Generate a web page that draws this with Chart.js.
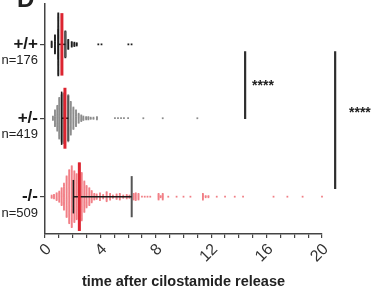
<!DOCTYPE html>
<html>
<head>
<meta charset="utf-8">
<script src="https://cdn.jsdelivr.net/npm/chart.js@4.4.0/dist/chart.umd.min.js"></script>
<style>
  html, body { margin: 0; padding: 0; background: #fff; }
</style>
</head>
<body>
<canvas id="dotplot" width="387" height="292"></canvas>
<script>
// groups, top to bottom
const groupLabels = ["+/+", "+/-", "-/-"];
const groupN = ["n=176", "n=419", "n=509"];
const groupRows = [3, 2.03, 1];

// dot columns: time value and number of cells at that value
const wtTimes = [0.48, 0.72, 0.96, 1.22, 1.47, 1.68, 1.93, 2.12, 2.29, 3.85, 4.08, 6.02, 6.25];
const wtCounts = [6, 17, 56, 45, 24, 9, 5, 4, 3, 1, 1, 1, 1];

const hetTimes = [0.57, 0.72, 0.89, 1.03, 1.2, 1.32, 1.44, 1.68, 1.86, 2.05, 2.24, 2.43, 2.62, 2.77, 2.97, 3.13, 3.3, 3.5, 3.75, 5.05, 5.27, 5.49, 5.7, 6.0, 7.1, 8.5, 11.0];
const hetCounts = [4, 15, 23, 37, 42, 45, 48, 42, 30, 20, 15, 9, 6, 4, 3, 3, 2, 2, 3, 1, 1, 1, 1, 1, 1, 1, 1];

const mutTimes = [0.48, 0.65, 0.84, 1.03, 1.2, 1.37, 1.56, 1.75, 1.93, 2.12, 2.28, 2.48, 2.65, 2.84, 3.0, 3.2, 3.37, 3.56, 3.73, 3.97, 4.2, 4.45, 4.7, 4.9, 5.17, 5.4, 5.65, 5.9, 6.1, 6.4, 6.55, 6.75, 7.0, 7.2, 7.4, 7.6, 8.2, 8.35, 8.5, 8.9, 9.5, 10.0, 10.5, 11.4, 11.6, 11.8, 12.4, 13.0, 13.7, 14.3, 16.5, 17.5, 18.6, 20.0];
const mutCounts = [3, 4, 7, 10, 16, 24, 37, 48, 55, 46, 41, 60, 43, 28, 20, 16, 11, 6, 5, 7, 4, 9, 6, 3, 5, 6, 3, 4, 3, 6, 7, 6, 1, 1, 1, 1, 6, 2, 6, 1, 1, 1, 1, 6, 2, 2, 1, 1, 1, 1, 1, 1, 1, 1];

// median (red) and error bar per group
const medians = [1.22, 1.44, 2.48];
const medianHalf = [0.41, 0.40, 0.45];
const errLow = [0.96, 1.2, 2.05];
const errHigh = [1.47, 1.68, 6.26];
const capLowHalf = [0.2, 0.35, 0.22];
const capHighHalf = [0.17, 0.3, 0.27];

// significance brackets
const sigX = [14.45, 20.95];
const sigTop = [2.91, 2.91];
const sigBottom = [2.02, 1.1];
const sigText = ["****", "****"];
const sigTextX = [14.95, 21.95];
const sigTextY = [2.45, 2.1];

const xTicks = [0, 4, 8, 12, 16, 20];
const dotStep = 0.0148;

function columnPoints(times, counts, row) {
  const pts = [];
  times.forEach((t, i) => {
    const c = counts[i];
    for (let k = 0; k < c; k++) {
      pts.push({ x: t, y: row + (k - (c - 1) / 2) * dotStep });
    }
  });
  return pts;
}

function segment(x1, y1, x2, y2, color, width, extra) {
  return Object.assign({
    type: "scatter",
    data: [{ x: x1, y: y1 }, { x: x2, y: y2 }],
    showLine: true,
    borderColor: color,
    borderWidth: width,
    pointRadius: 0,
    clip: false,
  }, extra || {});
}

const datasets = [];
groupRows.forEach((row, i) => {
  datasets.push(segment(medians[i], row - medianHalf[i], medians[i], row + medianHalf[i], "#dc2430", 3, { order: 0 }));
  datasets.push(segment(errLow[i], row, errHigh[i], row, "#1a1a1a", 1.5, { order: 1 }));
  datasets.push(segment(errLow[i], row - capLowHalf[i], errLow[i], row + capLowHalf[i], "#1a1a1a", 1.5, { order: 1 }));
  datasets.push(segment(errHigh[i], row - capHighHalf[i], errHigh[i], row + capHighHalf[i], "#555555", 2, { order: 1 }));
});
sigX.forEach((x, i) => {
  datasets.push(segment(x, sigTop[i], x, sigBottom[i], "#2e2e2e", 2.2, { order: 1 }));
});

const dotColors = ["#1e1e1e", "#8c8c8c", "#f17f86"];
[[wtTimes, wtCounts], [hetTimes, hetCounts], [mutTimes, mutCounts]].forEach((g, i) => {
  datasets.push({
    type: "scatter",
    data: columnPoints(g[0], g[1], groupRows[i]),
    pointStyle: "rect",
    pointRadius: 1.25,
    pointBorderWidth: 0,
    backgroundColor: dotColors[i],
    borderColor: dotColors[i],
    clip: false,
    order: 2,
  });
});

const annotate = {
  id: "annotate",
  afterDraw(chart) {
    const ctx = chart.ctx;
    const xs = chart.scales.x;
    const ys = chart.scales.y;
    ctx.save();
    ctx.fillStyle = "#222";
    ctx.font = '13px "Liberation Sans", Arial, sans-serif';
    ctx.textAlign = "right";
    ctx.textBaseline = "middle";
    groupN.forEach((t, i) => {
      ctx.fillText(t, 38, ys.getPixelForValue(groupRows[i]) + 16.5);
    });
    ctx.font = 'bold 14px "Liberation Sans", Arial, sans-serif';
    ctx.textAlign = "left";
    sigText.forEach((t, i) => {
      ctx.fillText(t, xs.getPixelForValue(sigTextX[i]), ys.getPixelForValue(sigTextY[i]));
    });
    // panel letter, cut off at the top
    ctx.font = 'bold 24px "Liberation Sans", Arial, sans-serif';
    ctx.textBaseline = "alphabetic";
    ctx.fillText("D", 17, 7);
    ctx.restore();
  },
};

const config = {
  type: "scatter",
  data: { datasets },
  options: {
    responsive: false,
    animation: false,
    events: [],
    layout: { padding: { top: 0, right: 65, bottom: 0, left: 0 } },
    plugins: { legend: { display: false }, tooltip: { enabled: false } },
    scales: {
      x: {
        type: "linear",
        min: 0,
        max: 20,
        afterFit(scale) {
          scale.height = 58;
          scale.paddingLeft = 0;
          scale.paddingRight = 0;
        },
        ticks: {
          stepSize: 1,
          autoSkip: false,
          minRotation: 45,
          maxRotation: 45,
          padding: 2,
          labelOffset: 4,
          color: "#333",
          font: { family: '"Liberation Sans", Arial, sans-serif', size: 16 },
          callback: (v) => (xTicks.includes(v) ? String(v) : ""),
        },
        grid: { drawOnChartArea: false, drawTicks: true, tickLength: 4, color: "#444", lineWidth: 1.2 },
        border: { color: "#444", width: 1.5 },
        title: {
          display: true,
          text: "time after cilostamide release",
          color: "#222",
          font: { family: '"Liberation Sans", Arial, sans-serif', size: 14.5, weight: "bold" },
          padding: { top: 0, bottom: 1 },
        },
      },
      y: {
        type: "linear",
        min: 0.51,
        max: 3.53,
        afterFit(scale) {
          scale.width = 45;
          scale.paddingTop = 0;
          scale.paddingBottom = 0;
        },
        afterBuildTicks(scale) { scale.ticks = groupRows.map((v) => ({ value: v })); },
        ticks: {
          padding: 2,
          color: "#1a1a1a",
          font: { family: '"Liberation Sans", Arial, sans-serif', size: 17, weight: "bold" },
          callback: (v) => {
            const i = groupRows.indexOf(v);
            return i >= 0 ? groupLabels[i] : "";
          },
        },
        grid: { drawOnChartArea: false, drawTicks: true, tickLength: 5, color: "#444", lineWidth: 1.2 },
        border: { color: "#444", width: 1.5 },
      },
    },
  },
  plugins: [annotate],
};

const myChart = new Chart(document.getElementById("dotplot"), config);
</script>
</body>
</html>
